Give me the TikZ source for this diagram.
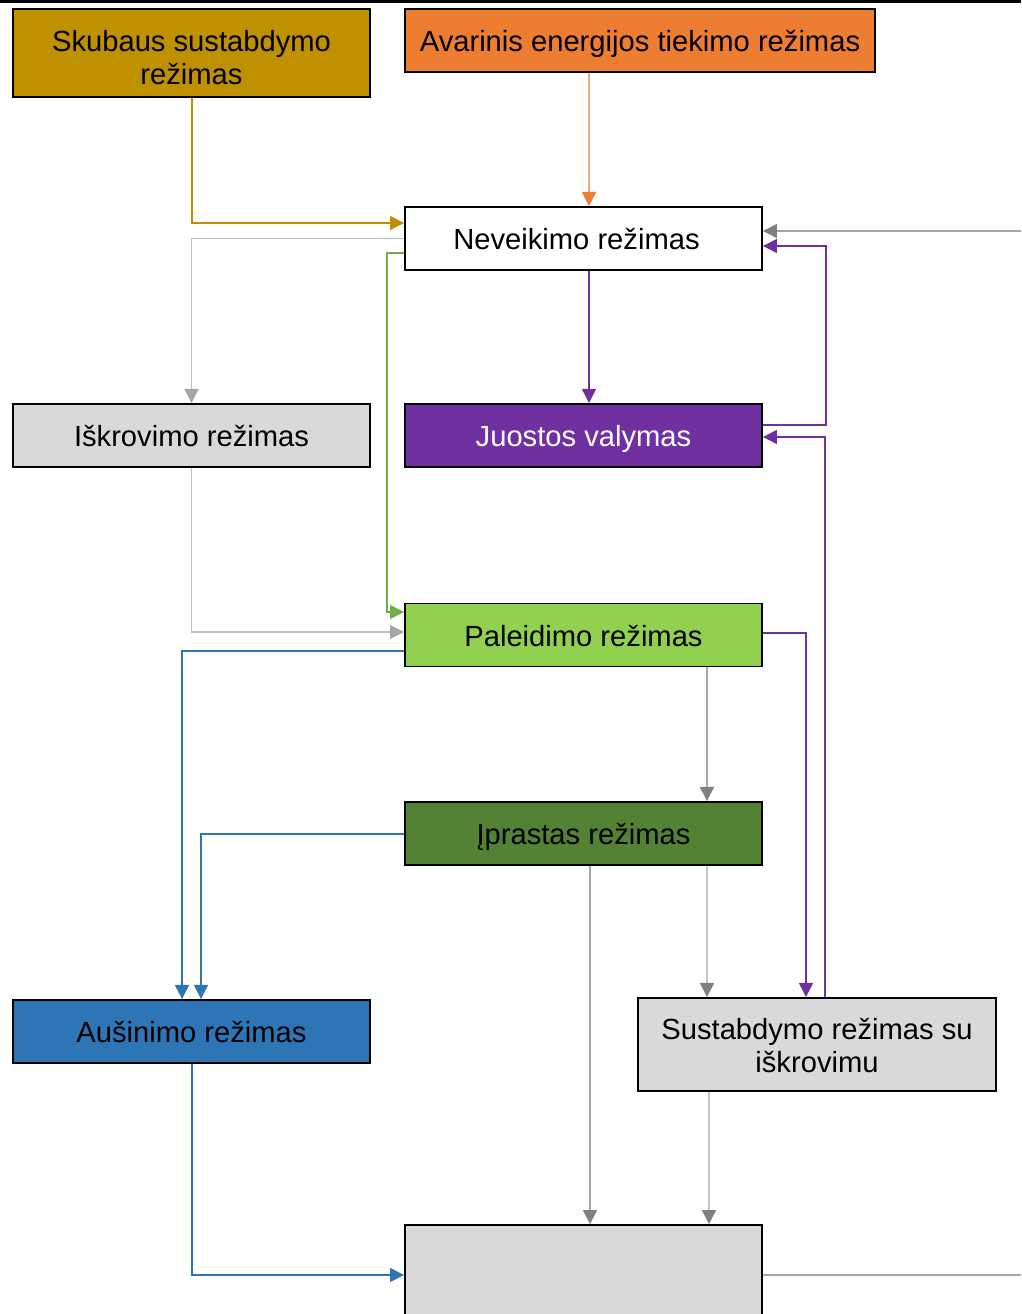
\documentclass[tikz,border=0pt]{standalone}
\usepackage{fontspec}
\setmainfont{Liberation Sans}
\usetikzlibrary{calc}
\usetikzlibrary{arrows.meta}

\definecolor{gold}{HTML}{BF9000}
\definecolor{orng}{HTML}{ED7D31}
\definecolor{purp}{HTML}{7030A0}
\definecolor{lgreen}{HTML}{92D050}
\definecolor{dgreen}{HTML}{548235}
\definecolor{lnkgreen}{HTML}{70AD47}
\definecolor{blu}{HTML}{2E75B6}
\definecolor{boxgray}{HTML}{D9D9D9}
\definecolor{gray1}{HTML}{BFBFBF}
\definecolor{gray2}{HTML}{A6A6A6}
\definecolor{gray3}{HTML}{808080}

\tikzset{
  mode/.style={draw=black,line width=1.1pt,minimum width=7.14cm,minimum height=1.26cm,
    inner sep=0pt,align=center,font=\fontsize{16.6}{18.8}\selectfont,
    text height=16pt,text depth=3pt},
  link/.style={line width=0.7pt,-{Triangle[length=8pt,width=8pt]}},
  goldlink/.style={link,gold},
  orngLink/.style={link,orng},
  purplink/.style={link,purp},
  greenlink/.style={link,lnkgreen},
  bluelink/.style={link,blu},
  lgraylink/.style={line width=0.7pt,gray1,-{Triangle[length=8pt,width=8pt,color=gray2]}},
  dgraylink/.style={line width=0.7pt,gray2,-{Triangle[length=8pt,width=8pt,color=gray3]}}
}

\begin{document}
\begin{tikzpicture}[x=0.02cm,y=-0.02cm]
\path[use as bounding box,clip] (0,0) rectangle (1021,1314);
\fill[black] (0,0) rectangle (1021,3.5);

\node[mode,fill=gold,minimum height=1.76cm,text height=38pt,text depth=1.7pt] (skub) at (191.5,53) {Skubaus sustabdymo\\režimas};
\node[mode,fill=orng,minimum width=9.4cm] (avar) at (640,40.5) {Avarinis energijos tiekimo režimas};
\node[mode,fill=white] (nev) at (583.5,238.5) {Neveikimo režimas\hspace*{0.28cm}};
\node[mode,fill=boxgray] (iskr) at (191.5,435.5) {Iškrovimo režimas};
\node[mode,fill=purp,text=white] (juost) at (583.5,435.5) {Juostos valymas};
\node[mode,fill=lgreen] (pal) at (583.5,635) {Paleidimo režimas};
\node[mode,fill=dgreen] (ipr) at (583.5,833.5) {Įprastas režimas};
\node[mode,fill=blu] (ausin) at (191.5,1031.5) {Aušinimo režimas};
\node[mode,fill=boxgray,minimum width=7.16cm,minimum height=1.86cm,text height=35pt,text depth=2.7pt] (sust) at (817,1044.5) {Sustabdymo režimas su\\iškrovimu};
\node[mode,fill=boxgray,minimum height=2cm] (bottom) at (583.5,1275) {};

\draw[goldlink] ($(skub.south)+(0.5,0)$) |- ($(nev.west)+(0,-15.5)$);
\draw[orngLink] ($(avar.south)+(-51,0)$) -- ($(nev.north)+(5.5,0)$);
\draw[lgraylink] (nev.west) -| (iskr.north);
\draw[greenlink] ($(nev.west)+(0,14.5)$) -- ++(-17,0) |- ($(pal.west)+(0,-23)$);
\draw[purplink] ($(nev.south)+(5.5,0)$) -- ($(juost.north)+(5.5,0)$);
\draw[dgraylink] (bottom.east) -- ++(320,0) |- ($(nev.east)+(0,-7.5)$);
\draw[purplink] ($(juost.east)+(0,-10.5)$) -- ++(63,0) |- ($(nev.east)+(0,7.5)$);
\draw[purplink] ($(sust.north)+(8,0)$) |- ($(juost.east)+(0,1.5)$);
\draw[lgraylink] (iskr.south) |- ($(pal.west)+(0,-3)$);
\draw[bluelink] ($(pal.west)+(0,16)$) -| ($(ausin.north)+(-9.5,0)$);
\draw[dgraylink] ($(pal.south)+(123.5,0)$) -- ($(ipr.north)+(123.5,0)$);
\draw[purplink] ($(pal.east)+(0,-2)$) -| ($(sust.north)+(-11,0)$);
\draw[bluelink] ($(ipr.west)+(0,0.5)$) -| ($(ausin.north)+(9.5,0)$);
\draw[dgraylink] ($(ipr.south)+(6.5,0)$) -- ($(bottom.north)+(6.5,0)$);
\draw[dgraylink] ($(ipr.south)+(123.5,0)$) -- ($(sust.north)+(-110,0)$);
\draw[dgraylink] ($(sust.south)+(-108,0)$) -- ($(bottom.north)+(125.5,0)$);
\draw[bluelink] ($(ausin.south)+(0.5,0)$) |- (bottom.west);
\end{tikzpicture}
\end{document}
